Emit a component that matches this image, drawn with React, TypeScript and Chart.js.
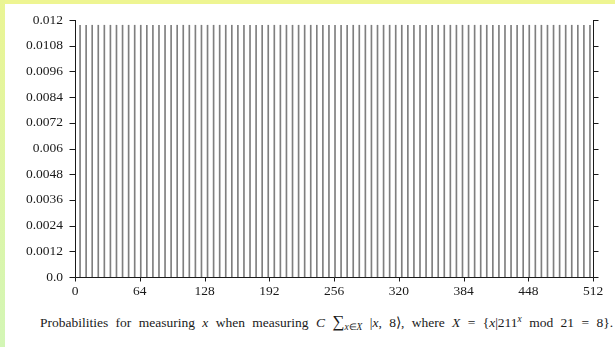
import React, { useEffect, useRef } from "react";
import { Chart, registerables } from "chart.js";

Chart.register(...registerables);

// Measured outcomes x (every 6th value) and their probabilities
const X_VALUES = [
  5, 11, 17, 23, 29, 35, 41, 47, 53, 59,
  65, 71, 77, 83, 89, 95, 101, 107, 113, 119,
  125, 131, 137, 143, 149, 155, 161, 167, 173, 179,
  185, 191, 197, 203, 209, 215, 221, 227, 233, 239,
  245, 251, 257, 263, 269, 275, 281, 287, 293, 299,
  305, 311, 317, 323, 329, 335, 341, 347, 353, 359,
  365, 371, 377, 383, 389, 395, 401, 407, 413, 419,
  425, 431, 437, 443, 449, 455, 461, 467, 473, 479,
  485, 491, 497, 503, 509,
];
const PROBABILITIES = [
  0.01176, 0.01176, 0.01176, 0.01176, 0.01176, 0.01176, 0.01176, 0.01176, 0.01176, 0.01176,
  0.01176, 0.01176, 0.01176, 0.01176, 0.01176, 0.01176, 0.01176, 0.01176, 0.01176, 0.01176,
  0.01176, 0.01176, 0.01176, 0.01176, 0.01176, 0.01176, 0.01176, 0.01176, 0.01176, 0.01176,
  0.01176, 0.01176, 0.01176, 0.01176, 0.01176, 0.01176, 0.01176, 0.01176, 0.01176, 0.01176,
  0.01176, 0.01176, 0.01176, 0.01176, 0.01176, 0.01176, 0.01176, 0.01176, 0.01176, 0.01176,
  0.01176, 0.01176, 0.01176, 0.01176, 0.01176, 0.01176, 0.01176, 0.01176, 0.01176, 0.01176,
  0.01176, 0.01176, 0.01176, 0.01176, 0.01176, 0.01176, 0.01176, 0.01176, 0.01176, 0.01176,
  0.01176, 0.01176, 0.01176, 0.01176, 0.01176, 0.01176, 0.01176, 0.01176, 0.01176, 0.01176,
  0.01176, 0.01176, 0.01176, 0.01176, 0.01176,
];

const X_TICKS = [0, 64, 128, 192, 256, 320, 384, 448, 512];
const X_TICK_LABELS = ["0", "64", "128", "192", "256", "320", "384", "448", "512"];
const Y_TICKS = [0, 0.0012, 0.0024, 0.0036, 0.0048, 0.006, 0.0072, 0.0084, 0.0096, 0.0108, 0.012];
const Y_TICK_LABELS = ["0.0", "0.0012", "0.0024", "0.0036", "0.0048", "0.006", "0.0072", "0.0084", "0.0096", "0.0108", "0.012"];

const FONT = "'Liberation Serif', 'Times New Roman', serif";

const axesPlugin = {
  id: "axesFrame",
  afterDatasetsDraw(chart: any) {
    const { ctx, chartArea, scales } = chart;
    const { left, right, top, bottom } = chartArea;
    const L = Math.round(left) + 0.5;
    const R = Math.round(right) + 0.5;
    const B = Math.round(bottom) + 0.5;
    const T = Math.round(top);
    ctx.save();
    ctx.strokeStyle = "#1a1a1a";
    ctx.lineWidth = 1;
    ctx.beginPath();
    ctx.moveTo(L, T);
    ctx.lineTo(L, B);
    ctx.moveTo(R, T);
    ctx.lineTo(R, B);
    ctx.moveTo(L, B);
    ctx.lineTo(R, B);
    for (const v of Y_TICKS) {
      const py = Math.round(scales.y.getPixelForValue(v)) + 0.5;
      ctx.moveTo(L - 6, py);
      ctx.lineTo(L, py);
      ctx.moveTo(R, py);
      ctx.lineTo(R + 5, py);
    }
    for (const v of X_TICKS) {
      const px = Math.round(scales.x.getPixelForValue(v)) + 0.5;
      ctx.moveTo(px, B);
      ctx.lineTo(px, B + 4);
    }
    ctx.stroke();
    ctx.restore();
  },
};

function ProbChart() {
  const ref = useRef<HTMLCanvasElement | null>(null);
  useEffect(() => {
    if (!ref.current) return;
    const points = X_VALUES.map((x, i) => ({ x, y: PROBABILITIES[i] }));
    const chart = new Chart(ref.current, {
      type: "bar",
      data: {
        datasets: [
          {
            data: points as any,
            backgroundColor: "#7f7f7f",
            borderWidth: 0,
            barThickness: 1,
          },
        ],
      },
      options: {
        animation: false,
        responsive: false,
        maintainAspectRatio: false,
        layout: { padding: { left: 0, right: 22, top: 20, bottom: 0 } },
        plugins: { legend: { display: false }, tooltip: { enabled: false } },
        scales: {
          x: {
            type: "linear",
            min: 0,
            max: 512,
            offset: false,
            grid: { display: false, drawTicks: false },
            border: { display: false },
            afterBuildTicks: (s: any) => {
              s.ticks = X_TICKS.map((v) => ({ value: v }));
            },
            afterFit: (s: any) => {
              s.height = 23;
            },
            ticks: {
              padding: 6,
              maxRotation: 0,
              autoSkip: false,
              color: "#1a1a1a",
              font: { family: FONT, size: 13.5 },
              callback: (_v: any, i: number) => X_TICK_LABELS[i],
            },
          },
          y: {
            type: "linear",
            min: 0,
            max: 0.012,
            grid: { display: false, drawTicks: false },
            border: { display: false },
            afterBuildTicks: (s: any) => {
              s.ticks = Y_TICKS.map((v) => ({ value: v }));
            },
            afterFit: (s: any) => {
              s.width = 75;
            },
            ticks: {
              padding: 12,
              autoSkip: false,
              color: "#1a1a1a",
              font: { family: FONT, size: 13.5 },
              callback: (_v: any, i: number) => Y_TICK_LABELS[i],
            },
          },
        },
      },
      plugins: [axesPlugin],
    });
    return () => chart.destroy();
  }, []);
  return (
    <canvas
      ref={ref}
      width={615}
      height={300}
      style={{ position: "absolute", left: 0, top: 0, width: 615, height: 300 }}
    />
  );
}

const it = { fontStyle: "italic" } as const;

export default function App() {
  return (
    <div
      style={{
        position: "absolute",
        left: 0,
        top: 0,
        width: 615,
        height: 347,
        background: "#ffffff",
        overflow: "hidden",
      }}
    >
      <div style={{ position: "absolute", left: 0, top: 0, width: 615, height: 4, background: "#eef592" }} />
      <div
        style={{
          position: "absolute",
          left: 0,
          top: 0,
          width: 5,
          height: 347,
          background: "linear-gradient(#eaf594, #d3f6b6)",
        }}
      />
      <ProbChart />
      <div
        style={{
          position: "absolute",
          left: 40,
          top: 314,
          whiteSpace: "nowrap",
          fontFamily: FONT,
          fontSize: 13.5,
          lineHeight: "16px",
          color: "#1a1a1a",
          wordSpacing: "4px",
        }}
      >
        Probabilities for measuring <span style={it}>x</span> when measuring{" "}
        <span style={it}>C</span>{" "}
        <span style={{ fontSize: "125%" }}>∑</span>
        <span style={{ fontSize: "70%", position: "relative", top: 3 }}>
          <span style={it}>x</span>∈<span style={it}>X</span>
        </span>{" "}
        |<span style={it}>x</span>, 8⟩, where <span style={it}>X</span> = {"{"}
        <span style={it}>x</span>|211
        <span style={{ fontSize: "70%", position: "relative", top: -5, ...it }}>x</span> mod 21 = 8{"}"}.
      </div>
    </div>
  );
}
